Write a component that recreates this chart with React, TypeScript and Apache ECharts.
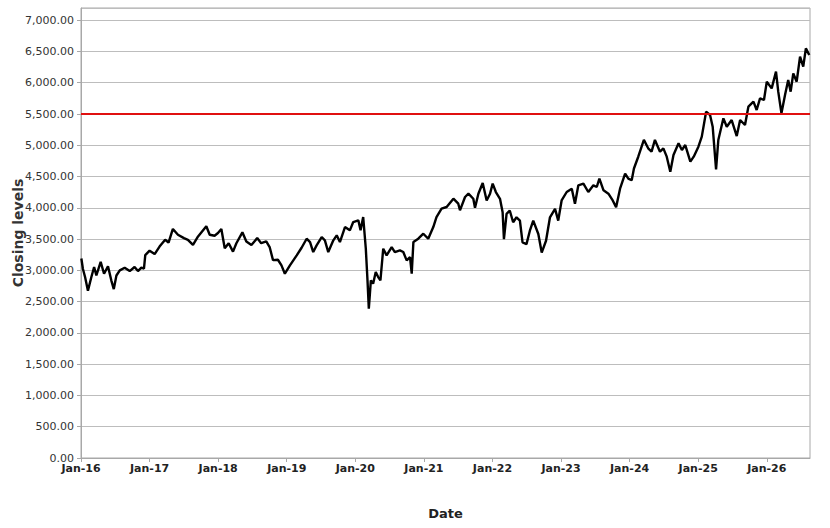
import React, { useEffect, useRef } from "react";
import * as echarts from "echarts";

const dates: string[] = [
  "2016-01-03","2016-01-11","2016-01-23","2016-02-07","2016-02-25","2016-03-11","2016-03-23","2016-04-15",
  "2016-05-03","2016-05-24","2016-06-11","2016-06-24","2016-07-08","2016-07-26","2016-08-21","2016-09-17",
  "2016-10-13","2016-10-31","2016-11-18","2016-12-02","2016-12-09","2017-01-01","2017-01-28","2017-02-23",
  "2017-03-25","2017-04-12","2017-05-05","2017-06-01","2017-07-03","2017-07-24","2017-08-20","2017-09-16",
  "2017-10-30","2017-11-17","2017-12-13","2017-12-31","2018-01-18","2018-02-05","2018-02-26","2018-03-21",
  "2018-04-08","2018-05-10","2018-05-31","2018-06-27","2018-07-28","2018-08-18","2018-09-14","2018-10-02",
  "2018-10-20","2018-11-15","2018-12-04","2018-12-22","2019-01-18","2019-02-23","2019-03-21","2019-04-17",
  "2019-05-05","2019-05-22","2019-06-09","2019-07-06","2019-07-23","2019-08-10","2019-09-06","2019-09-24",
  "2019-10-11","2019-11-07","2019-12-03","2019-12-21","2020-01-17","2020-01-29","2020-02-12","2020-02-26",
  "2020-03-06","2020-03-13","2020-03-24","2020-04-05","2020-04-19","2020-05-02","2020-05-14","2020-05-29",
  "2020-06-16","2020-07-13","2020-07-30","2020-08-26","2020-09-13","2020-10-01","2020-10-19","2020-10-28",
  "2020-11-06","2020-12-02","2020-12-29","2021-01-24","2021-02-20","2021-03-09","2021-04-05","2021-05-02",
  "2021-06-07","2021-07-03","2021-07-12","2021-08-08","2021-08-26","2021-09-21","2021-09-30","2021-10-18",
  "2021-11-10","2021-12-01","2021-12-19","2022-01-02","2022-01-19","2022-02-10","2022-02-24","2022-03-03",
  "2022-03-17","2022-04-03","2022-04-21","2022-05-09","2022-05-27","2022-06-10","2022-07-01","2022-07-19",
  "2022-08-06","2022-09-02","2022-09-20","2022-10-13","2022-11-03","2022-11-30","2022-12-17","2023-01-04",
  "2023-01-31","2023-02-27","2023-03-16","2023-04-03","2023-04-30","2023-05-26","2023-06-22","2023-07-10",
  "2023-07-24","2023-08-15","2023-09-10","2023-10-03","2023-10-21","2023-11-11","2023-12-08","2023-12-25",
  "2024-01-12","2024-01-24","2024-02-16","2024-03-17","2024-04-09","2024-04-27","2024-05-15","2024-06-11",
  "2024-06-29","2024-07-17","2024-08-05","2024-08-22","2024-09-18","2024-10-06","2024-10-24","2024-11-20",
  "2024-12-08","2025-01-02","2025-01-20","2025-02-12","2025-03-05","2025-03-19","2025-04-06","2025-04-18",
  "2025-05-15","2025-06-02","2025-06-28","2025-07-25","2025-08-12","2025-09-07","2025-09-25","2025-10-22",
  "2025-11-08","2025-11-26","2025-12-17","2026-01-01","2026-01-27","2026-02-19","2026-03-03","2026-03-20",
  "2026-04-08","2026-04-25","2026-05-08","2026-05-22","2026-06-09","2026-06-27","2026-07-14","2026-07-28",
  "2026-08-15",
];

const closes: number[] = [
  3190,3027,2890,2674,2890,3054,2918,3136,
  2946,3065,2837,2700,2918,3000,3043,2989,
  3054,2989,3043,3027,3244,3315,3260,3380,
  3489,3445,3662,3570,3516,3489,3407,3543,
  3706,3570,3554,3597,3662,3353,3434,3299,
  3434,3608,3462,3407,3516,3434,3462,3373,
  3163,3170,3080,2947,3080,3240,3362,3506,
  3453,3293,3400,3533,3480,3293,3480,3560,
  3453,3693,3640,3773,3800,3640,3853,3347,
  2840,2387,2840,2787,2973,2893,2840,3347,
  3240,3373,3293,3320,3293,3160,3213,2947,
  3453,3506,3586,3506,3693,3853,3986,4013,
  4146,4066,3960,4173,4226,4145,4000,4226,
  4398,4118,4226,4387,4253,4145,3930,3500,
  3903,3957,3769,3849,3796,3446,3419,3634,
  3796,3581,3285,3473,3849,3984,3796,4118,
  4253,4306,4065,4360,4387,4253,4360,4333,
  4468,4280,4226,4118,4011,4306,4548,4468,
  4441,4629,4817,5086,4952,4898,5086,4898,
  4951,4818,4578,4844,5031,4924,5004,4738,
  4818,4978,5138,5537,5484,5297,4615,5084,
  5431,5297,5404,5148,5404,5324,5617,5697,
  5564,5750,5724,6017,5910,6177,5857,5511,
  5804,6044,5857,6150,6017,6417,6257,6550,
  6443,
];

const thresholdLevel = 5500;
const yearTicks: number[] = [2016, 2017, 2018, 2019, 2020, 2021, 2022, 2023, 2024, 2025, 2026];
const xStart = 2016;
const xEnd = 2026.63;
const yMin = 0;
const yMax = 7195;

function toDecimalYear(d: string): number {
  const [y, m, day] = d.split("-").map(Number);
  const start = Date.UTC(y, 0, 1);
  const end = Date.UTC(y + 1, 0, 1);
  const t = Date.UTC(y, m - 1, day);
  return y + (t - start) / (end - start);
}

export default function App() {
  const ref = useRef<HTMLDivElement>(null);

  useEffect(() => {
    if (!ref.current) return;
    const chart = echarts.init(ref.current, undefined, { renderer: "svg" });
    const font = "'DejaVu Sans', sans-serif";
    const seriesData = dates.map((d, i) => [toDecimalYear(d), closes[i]]);
    chart.setOption({
      animation: false,
      backgroundColor: "#ffffff",
      grid: {
        left: 81,
        top: 8,
        right: 20,
        bottom: 70,
        show: true,
        borderColor: "#a8a8a8",
        borderWidth: 1,
        backgroundColor: "#ffffff",
        containLabel: false,
        outerBoundsMode: "none",
      },
      xAxis: {
        type: "value",
        min: xStart,
        max: xEnd,
        interval: 1,
        name: "Date",
        nameLocation: "middle",
        nameGap: 49,
        nameMoveOverlap: false,
        nameTextStyle: { fontFamily: font, fontSize: 13, fontWeight: "bold", color: "#222" },
        axisLine: { show: true, lineStyle: { color: "#a8a8a8" } },
        axisTick: { show: true, length: 4, lineStyle: { color: "#a8a8a8" } },
        axisLabel: {
          fontFamily: font,
          fontSize: 11,
          fontWeight: "bold",
          color: "#222",
          margin: 5,
          showMaxLabel: false,
          formatter: (v: number) =>
            yearTicks.includes(Math.round(v)) && Math.abs(v - Math.round(v)) < 1e-6
              ? "Jan-" + String(Math.round(v)).slice(2)
              : "",
        },
        splitLine: { show: false },
      },
      yAxis: {
        type: "value",
        min: yMin,
        max: yMax,
        interval: 500,
        name: "Closing levels",
        nameLocation: "middle",
        nameRotate: 90,
        nameGap: 56,
        nameMoveOverlap: false,
        nameTextStyle: { fontFamily: font, fontSize: 14, fontWeight: "bold", color: "#333" },
        axisLine: { show: true, lineStyle: { color: "#a8a8a8" } },
        axisTick: { show: true, length: 4, lineStyle: { color: "#a8a8a8" } },
        axisLabel: {
          fontFamily: font,
          fontSize: 11,
          color: "#333",
          margin: 7,
          showMaxLabel: false,
          formatter: (v: number) =>
            v % 500 === 0
              ? v.toLocaleString("en-US", { minimumFractionDigits: 2, maximumFractionDigits: 2 })
              : "",
        },
        splitLine: { show: true, lineStyle: { color: "#bdbdbd", width: 1 } },
      },
      series: [
        {
          type: "line",
          data: seriesData,
          showSymbol: false,
          symbol: "none",
          lineStyle: { color: "#000000", width: 2.4 },
          z: 3,
          markLine: {
            silent: true,
            symbol: "none",
            label: { show: false },
            lineStyle: { color: "#e01010", width: 2, type: "solid" },
            data: [{ yAxis: thresholdLevel }],
            z: 4,
          },
        },
      ],
    });
    return () => chart.dispose();
  }, []);

  return (
    <div
      ref={ref}
      style={{ position: "absolute", left: 0, top: 0, width: 830, height: 528, background: "#fff" }}
    />
  );
}
